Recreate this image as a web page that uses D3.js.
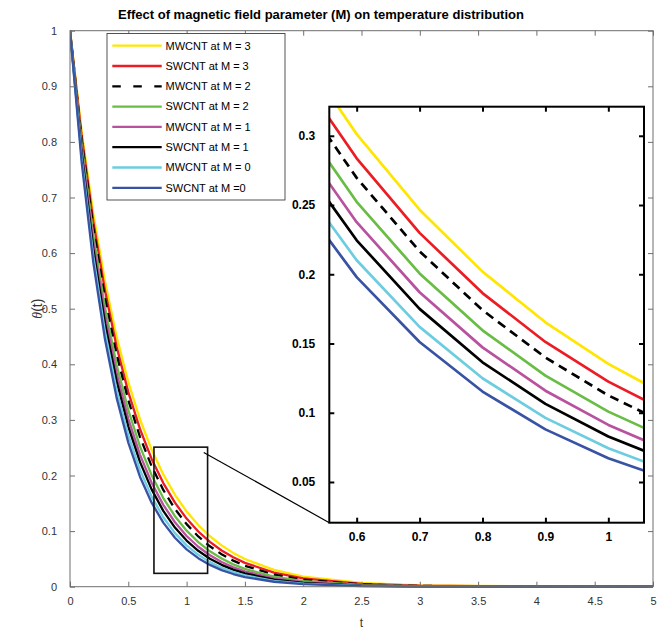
<!DOCTYPE html>
<html>
<head>
<meta charset="utf-8">
<script src="https://cdn.jsdelivr.net/npm/d3@7"></script>
<style>
  body { margin: 0; background: #fff; }
  svg { display: block; font-family: "Liberation Sans", Arial, Helvetica, sans-serif; }
</style>
</head>
<body>
<svg id="chart" width="667" height="632"></svg>
<script>
// Time grid (t) and temperature profiles theta(t) for each nanotube type / M value
const t = [0, 0.1, 0.2, 0.3, 0.4, 0.5, 0.6, 0.7, 0.8, 0.9, 1.0, 1.1, 1.2, 1.3, 1.4, 1.5, 1.75, 2.0, 2.5, 3.0, 4.0, 5.0];

const mwcntM3 = [1, 0.8187, 0.6703, 0.5488, 0.4493, 0.3679, 0.3012, 0.2466, 0.2019, 0.1653, 0.1353, 0.1108, 0.0907, 0.0743, 0.0608, 0.0498, 0.0302, 0.0183, 0.0067, 0.0025, 0.0003, 0.0000];
const swcntM3 = [1, 0.8106, 0.6570, 0.5326, 0.4317, 0.3499, 0.2837, 0.2299, 0.1864, 0.1511, 0.1225, 0.0993, 0.0805, 0.0652, 0.0529, 0.0429, 0.0254, 0.0150, 0.0052, 0.0018, 0.0002, 0.0000];
const mwcntM2 = [1, 0.8037, 0.6460, 0.5192, 0.4173, 0.3354, 0.2696, 0.2166, 0.1741, 0.1399, 0.1125, 0.0904, 0.0727, 0.0584, 0.0469, 0.0377, 0.0218, 0.0127, 0.0042, 0.0014, 0.0002, 0.0000];
const swcntM2 = [1, 0.7949, 0.6319, 0.5023, 0.3993, 0.3174, 0.2523, 0.2006, 0.1595, 0.1268, 0.1008, 0.0801, 0.0637, 0.0506, 0.0402, 0.0320, 0.0180, 0.0102, 0.0032, 0.0010, 0.0001, 0.0000];
const mwcntM1 = [1, 0.7870, 0.6194, 0.4875, 0.3837, 0.3020, 0.2376, 0.1870, 0.1472, 0.1159, 0.0912, 0.0718, 0.0565, 0.0445, 0.0350, 0.0275, 0.0151, 0.0083, 0.0025, 0.0008, 0.0001, 0.0000];
const swcntM1 = [1, 0.7796, 0.6078, 0.4738, 0.3694, 0.2880, 0.2245, 0.1750, 0.1364, 0.1064, 0.0829, 0.0646, 0.0504, 0.0393, 0.0306, 0.0239, 0.0128, 0.0069, 0.0020, 0.0006, 0.0000, 0.0000];
const mwcntM0 = [1, 0.7711, 0.5945, 0.4584, 0.3535, 0.2725, 0.2101, 0.1620, 0.1249, 0.0963, 0.0743, 0.0573, 0.0442, 0.0341, 0.0263, 0.0202, 0.0106, 0.0055, 0.0015, 0.0004, 0.0000, 0.0000];
const swcntM0 = [1, 0.7634, 0.5828, 0.4449, 0.3396, 0.2592, 0.1979, 0.1511, 0.1153, 0.0880, 0.0672, 0.0513, 0.0392, 0.0299, 0.0228, 0.0174, 0.0089, 0.0045, 0.0012, 0.0003, 0.0000, 0.0000];

const seriesLabels = ["MWCNT at M = 3", "SWCNT at M = 3", "MWCNT at M = 2", "SWCNT at M = 2",
                      "MWCNT at M = 1", "SWCNT at M = 1", "MWCNT at M = 0", "SWCNT at M =0"];
const seriesValues = [mwcntM3, swcntM3, mwcntM2, swcntM2, mwcntM1, swcntM1, mwcntM0, swcntM0];

// Tick values and labels
const xTickValues = [0, 0.5, 1, 1.5, 2, 2.5, 3, 3.5, 4, 4.5, 5];
const xTickLabels = ["0", "0.5", "1", "1.5", "2", "2.5", "3", "3.5", "4", "4.5", "5"];
const yTickValues = [0, 0.1, 0.2, 0.3, 0.4, 0.5, 0.6, 0.7, 0.8, 0.9, 1];
const yTickLabels = ["0", "0.1", "0.2", "0.3", "0.4", "0.5", "0.6", "0.7", "0.8", "0.9", "1"];
const insetXTickValues = [0.6, 0.7, 0.8, 0.9, 1];
const insetXTickLabels = ["0.6", "0.7", "0.8", "0.9", "1"];
const insetYTickValues = [0.05, 0.1, 0.15, 0.2, 0.25, 0.3];
const insetYTickLabels = ["0.05", "0.1", "0.15", "0.2", "0.25", "0.3"];

// Line styles per series
const seriesStyles = [
  { color: "#ffe600", dash: null },
  { color: "#ec1c24", dash: null },
  { color: "#000000", dash: "9,6" },
  { color: "#69bd45", dash: null },
  { color: "#b8529f", dash: null },
  { color: "#000000", dash: null },
  { color: "#6dcde0", dash: null },
  { color: "#3953a4", dash: null }
];

const series = seriesLabels.map((name, i) => ({
  name,
  style: seriesStyles[i],
  points: t.map((tv, j) => ({ t: tv, v: seriesValues[i][j] }))
}));

const svg = d3.select("#chart");

// ---------- main axes ----------
const x = d3.scaleLinear().domain([0, 5]).range([70, 653]);
const y = d3.scaleLinear().domain([0, 1]).range([586.7, 30.7]);
const axisColor = "#6e6e6e";
const labelColor = "#333333";

svg.append("defs").append("clipPath").attr("id", "mainClip")
  .append("rect")
  .attr("x", x(0)).attr("y", y(1) - 1)
  .attr("width", x(5) - x(0)).attr("height", y(0) - y(1) + 2.5);

const mainLine = d3.line().x(d => x(d.t)).y(d => y(d.v));
const mainPlot = svg.append("g").attr("clip-path", "url(#mainClip)");
series.forEach(s => {
  mainPlot.append("path")
    .attr("d", mainLine(s.points))
    .attr("fill", "none")
    .attr("stroke", s.style.color)
    .attr("stroke-width", 2.3)
    .attr("stroke-dasharray", s.style.dash)
    .attr("stroke-linejoin", "round");
});

function styleAxis(g, color, width) {
  g.select(".domain").remove();
  g.selectAll(".tick line").attr("stroke", color).attr("stroke-width", width);
}

const gx = svg.append("g").attr("transform", `translate(0,${y(0)})`)
  .call(d3.axisBottom(x).tickValues(xTickValues).tickFormat((d, i) => xTickLabels[i])
    .tickSizeInner(-5).tickSizeOuter(0).tickPadding(11));
styleAxis(gx, axisColor, 1);
gx.selectAll("text").attr("font-size", 11).attr("fill", labelColor);

const gy = svg.append("g").attr("transform", `translate(${x(0)},0)`)
  .call(d3.axisLeft(y).tickValues(yTickValues).tickFormat((d, i) => yTickLabels[i])
    .tickSizeInner(-5).tickSizeOuter(0).tickPadding(13));
styleAxis(gy, axisColor, 1);
gy.selectAll("text").attr("font-size", 11).attr("fill", labelColor);

const gxTop = svg.append("g").attr("transform", `translate(0,${y(1)})`)
  .call(d3.axisTop(x).tickValues(xTickValues).tickFormat("").tickSizeInner(-5).tickSizeOuter(0));
styleAxis(gxTop, axisColor, 1);

const gyRight = svg.append("g").attr("transform", `translate(${x(5)},0)`)
  .call(d3.axisRight(y).tickValues(yTickValues).tickFormat("").tickSizeInner(-5).tickSizeOuter(0));
styleAxis(gyRight, axisColor, 1);

svg.append("rect")
  .attr("x", x(0)).attr("y", y(1))
  .attr("width", x(5) - x(0)).attr("height", y(0) - y(1))
  .attr("fill", "none").attr("stroke", axisColor).attr("stroke-width", 1);

// axis titles
svg.append("text")
  .attr("x", (x(0) + x(5)) / 2).attr("y", 627)
  .attr("text-anchor", "middle").attr("font-size", 12).attr("fill", labelColor)
  .text("t");

const yTitle = svg.append("text")
  .attr("transform", `translate(42,${(y(0) + y(1)) / 2}) rotate(-90)`)
  .attr("text-anchor", "middle").attr("font-size", 14).attr("fill", labelColor);
yTitle.append("tspan").attr("font-family", "'Liberation Serif', 'DejaVu Serif', serif")
  .attr("font-style", "italic").text("θ");
yTitle.append("tspan").text("(t)");

// chart title
svg.append("text")
  .attr("x", 118).attr("y", 19)
  .attr("font-size", 13).attr("font-weight", "bold").attr("fill", "#000")
  .text("Effect of magnetic field parameter (M) on temperature distribution");

// ---------- zoom box and connector ----------
const zoomBox = { t0: 0.72, t1: 1.18, v0: 0.024, v1: 0.251 };
svg.append("rect")
  .attr("x", x(zoomBox.t0)).attr("y", y(zoomBox.v1))
  .attr("width", x(zoomBox.t1) - x(zoomBox.t0))
  .attr("height", y(zoomBox.v0) - y(zoomBox.v1))
  .attr("fill", "none").attr("stroke", "#111").attr("stroke-width", 1.6);

// ---------- inset axes ----------
const xi = d3.scaleLinear().domain([0.5565, 1.0567]).range([329.3, 644]);
const yi = d3.scaleLinear().domain([0.0206, 0.321]).range([522.7, 106.7]);

const connectorStart = { t: 1.147, v: 0.2415 };
svg.append("line")
  .attr("x1", x(connectorStart.t)).attr("y1", y(connectorStart.v))
  .attr("x2", xi.range()[0]).attr("y2", yi.range()[0])
  .attr("stroke", "#000").attr("stroke-width", 1.2);

const inset = svg.append("g");
inset.append("rect")
  .attr("x", xi.range()[0]).attr("y", yi.range()[1])
  .attr("width", xi.range()[1] - xi.range()[0])
  .attr("height", yi.range()[0] - yi.range()[1])
  .attr("fill", "#fff");

svg.select("defs").append("clipPath").attr("id", "insetClip")
  .append("rect")
  .attr("x", xi.range()[0]).attr("y", yi.range()[1])
  .attr("width", xi.range()[1] - xi.range()[0])
  .attr("height", yi.range()[0] - yi.range()[1]);

const insetLine = d3.line().x(d => xi(d.t)).y(d => yi(d.v));
const insetPlot = inset.append("g").attr("clip-path", "url(#insetClip)");
series.forEach(s => {
  insetPlot.append("path")
    .attr("d", insetLine(s.points))
    .attr("fill", "none")
    .attr("stroke", s.style.color)
    .attr("stroke-width", 2.7)
    .attr("stroke-dasharray", s.style.dash)
    .attr("stroke-linejoin", "round");
});

const ix = inset.append("g").attr("transform", `translate(0,${yi.range()[0]})`)
  .call(d3.axisBottom(xi).tickValues(insetXTickValues).tickFormat((d, i) => insetXTickLabels[i])
    .tickSizeInner(-5).tickSizeOuter(0).tickPadding(10));
styleAxis(ix, "#000", 2);
ix.selectAll("text").attr("font-size", 12).attr("font-weight", "bold").attr("fill", "#000");

const iy = inset.append("g").attr("transform", `translate(${xi.range()[0]},0)`)
  .call(d3.axisLeft(yi).tickValues(insetYTickValues).tickFormat((d, i) => insetYTickLabels[i])
    .tickSizeInner(-5).tickSizeOuter(0).tickPadding(14));
styleAxis(iy, "#000", 2);
iy.selectAll("text").attr("font-size", 12).attr("font-weight", "bold").attr("fill", "#000");

const ixTop = inset.append("g").attr("transform", `translate(0,${yi.range()[1]})`)
  .call(d3.axisTop(xi).tickValues(insetXTickValues).tickFormat("").tickSizeInner(-5).tickSizeOuter(0));
styleAxis(ixTop, "#000", 2);

const iyRight = inset.append("g").attr("transform", `translate(${xi.range()[1]},0)`)
  .call(d3.axisRight(yi).tickValues(insetYTickValues).tickFormat("").tickSizeInner(-5).tickSizeOuter(0));
styleAxis(iyRight, "#000", 2);

inset.append("rect")
  .attr("x", xi.range()[0]).attr("y", yi.range()[1])
  .attr("width", xi.range()[1] - xi.range()[0])
  .attr("height", yi.range()[0] - yi.range()[1])
  .attr("fill", "none").attr("stroke", "#000").attr("stroke-width", 2);

// ---------- legend ----------
const legend = svg.append("g");
legend.append("rect")
  .attr("x", 107).attr("y", 33.5).attr("width", 178).attr("height", 166.5)
  .attr("fill", "#fff").attr("stroke", "#404040").attr("stroke-width", 0.9);

series.forEach((s, i) => {
  const ly = 45.7 + i * 20.3;
  legend.append("line")
    .attr("x1", 112.3).attr("x2", 161.7).attr("y1", ly).attr("y2", ly)
    .attr("stroke", s.style.color).attr("stroke-width", 2.3)
    .attr("stroke-dasharray", s.style.dash ? "8.5,12.5" : null);
  legend.append("text")
    .attr("x", 165.5).attr("y", ly).attr("dy", "0.35em")
    .attr("font-size", 11).attr("fill", "#000")
    .text(s.name);
});
</script>
</body>
</html>
